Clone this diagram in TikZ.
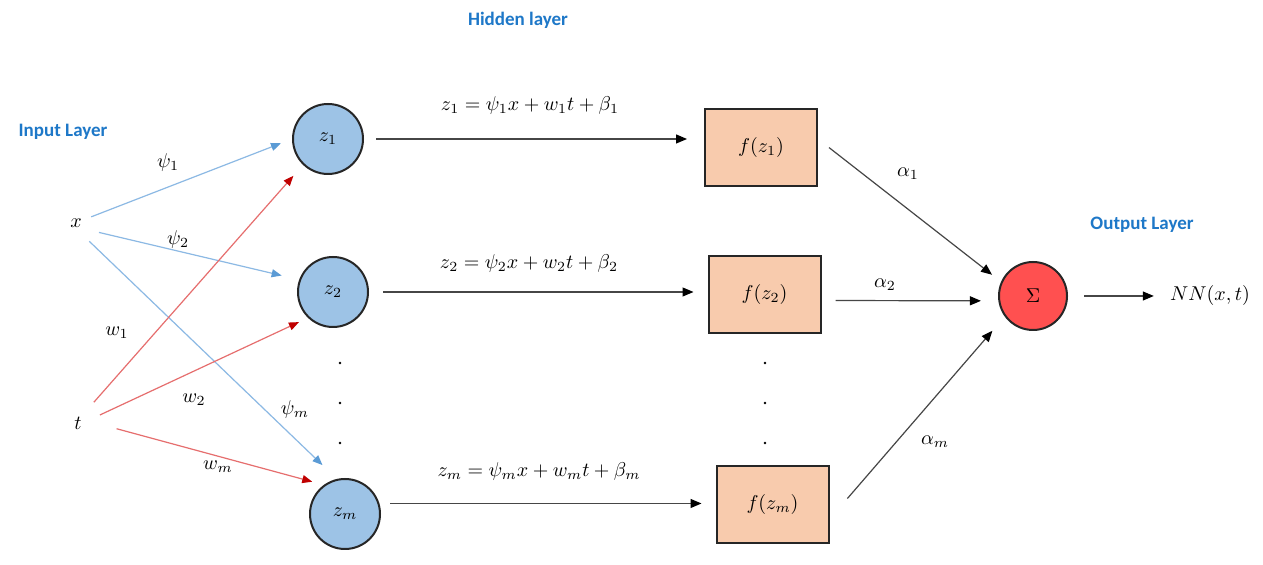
\documentclass[tikz,border=0pt]{standalone}
\usepackage{fontspec}
\newfontfamily\labelfont{Carlito}
\usetikzlibrary{arrows.meta}
\definecolor{cblue}{RGB}{157,195,230}
\definecolor{cboxfill}{RGB}{248,203,173}
\definecolor{csig}{RGB}{255,80,80}
\definecolor{ctitle}{RGB}{30,120,200}
\definecolor{bline}{RGB}{140,185,228}
\definecolor{bhead}{RGB}{91,155,213}
\definecolor{rline}{RGB}{230,110,110}
\definecolor{rhead}{RGB}{192,0,0}
\definecolor{kline}{RGB}{70,70,70}
\definecolor{kborder}{RGB}{38,38,38}
\tikzset{
 neuron/.style={circle, draw=kborder, line width=1pt, fill=cblue, minimum size=35pt, inner sep=0pt},
 actbox/.style={rectangle, draw=kborder, line width=1pt, fill=cboxfill, minimum width=56pt, minimum height=38.5pt, inner sep=0pt},
 sumnode/.style={circle, draw=kborder, line width=1pt, fill=csig, minimum size=34pt, inner sep=0pt},
 invar/.style={circle, minimum size=16pt, inner sep=0pt},
 title/.style={font=\labelfont\bfseries\fontsize{9.5}{11}\selectfont, text=ctitle, inner sep=0pt},
 barrow/.style={draw=bline, line width=0.6pt, -{Triangle[length=5pt,width=4pt,color=bhead]}},
 rarrow/.style={draw=rline, line width=0.6pt, -{Triangle[length=5pt,width=4pt,color=rhead]}},
 karrow/.style={draw=kline, line width=0.6pt, -{Triangle[length=5.5pt,width=4.5pt,color=black]}},
 lbl/.style={inner sep=0pt},
}
\begin{document}
\begin{tikzpicture}[x=0.5pt,y=-0.5pt]
\useasboundingbox[fill=white] (0,0) rectangle (1263,565);
% titles
\node[title] (tin) at (63,132) {Input Layer};
\node[title] (thid) at (518,20) {Hidden layer};
\node[title] (tout) at (1142,225) {Output Layer};
% nodes
\node[invar] (x) at (76,223) {$x$};
\node[invar] (t) at (78,423) {$t$};
\node[neuron] (z1) at (328,139) {$z_1$};
\node[neuron] (z2) at (333,292) {$z_2$};
\node[neuron] (zm) at (345,514) {$z_m$};
\node[actbox] (f1) at (761,148) {$f(z_1)$};
\node[actbox] (f2) at (764.5,294.5) {$f(z_2)$};
\node[actbox] (fm) at (772.5,505) {$f(z_m)$};
\node[sumnode] (sig) at (1033,296) {$\Sigma$};
\node[lbl] (nn) at (1210,296) {$NN(x,t)$};
% input connectors
\draw[barrow, shorten >=5.9pt] (x.22) -- (z1.180);
\draw[barrow, shorten <=4.3pt, shorten >=9pt] (x.-27) -- (z2.160);
\draw[barrow, shorten <=3.2pt, shorten >=10pt] (x.-58) -- (zm.103);
\draw[rarrow, shorten <=4.9pt, shorten >=7.3pt] (t.55) -- (z1.226);
\draw[rarrow, shorten <=3.5pt, shorten >=5pt] (t.18) -- (z2.226);
\draw[rarrow, shorten <=11.5pt, shorten >=6pt] (t.1) -- (zm.126);
% hidden connectors
\draw[karrow, shorten <=6pt, shorten >=8.5pt] (z1.east) -- (z1.east -| f1.west);
\draw[karrow, shorten <=7pt, shorten >=7pt] (z2.east) -- (z2.east -| f2.west);
\draw[karrow, shorten <=5.5pt, shorten >=7pt] (zm.17) -- (zm.17 -| fm.west);
% output connectors
\draw[karrow, shorten <=7pt, shorten >=5.7pt] (f1.9) -- (sig.156);
\draw[karrow, shorten <=7pt, shorten >=8.7pt] (f2.-6) -- (sig.188);
\draw[karrow, shorten <=13.7pt, shorten >=9.4pt] (fm.-14) -- (sig.216);
\draw[karrow, shorten <=8pt, shorten >=8pt] (sig.east) -- (nn.west);
% labels
\node[lbl] (lpsi1) at (168,163) {$\psi_1$};
\node[lbl] (lpsi2) at (178,240) {$\psi_2$};
\node[lbl] (lpsim) at (295,410) {$\psi_m$};
\node[lbl] (lw1) at (117,333) {$w_1$};
\node[lbl] (lw2) at (194,400) {$w_2$};
\node[lbl] (lwm) at (218,467) {$w_m$};
\node[lbl] (la1) at (908,174) {$\alpha_1$};
\node[lbl] (la2) at (885,285) {$\alpha_2$};
\node[lbl] (lam) at (935,442) {$\alpha_m$};
\node[lbl] (eq1) at (530,106) {$z_1 = \psi_1 x + w_1 t + \beta_1$};
\node[lbl] (eq2) at (529,264) {$z_2 = \psi_2 x + w_2 t + \beta_2$};
\node[lbl] (eqm) at (539,472) {$z_m = \psi_m x + w_m t + \beta_m$};
% dots
\foreach \yy in {363,403,443} {
  \fill (340,\yy) circle (0.7pt);
  \fill (765,\yy) circle (0.7pt);
}
\end{tikzpicture}
\end{document}
